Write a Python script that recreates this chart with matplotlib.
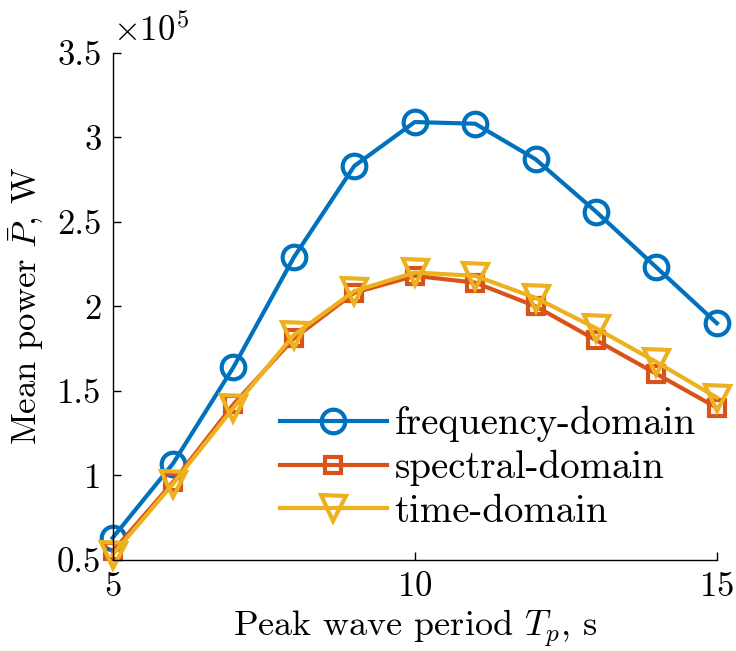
import matplotlib
matplotlib.use("Agg")
import matplotlib.pyplot as plt
from matplotlib.ticker import FuncFormatter

plt.rcParams["font.family"] = "serif"
plt.rcParams["font.serif"] = ["cmr10"]
plt.rcParams["mathtext.fontset"] = "cm"
plt.rcParams["axes.unicode_minus"] = False
plt.rcParams["axes.formatter.use_mathtext"] = True

# peak wave period, s
Tp = [5, 6, 7, 8, 9, 10, 11, 12, 13, 14, 15]
# mean power, x1e5 W
freq_dom = [0.63, 1.07, 1.64, 2.29, 2.83, 3.09, 3.08, 2.87, 2.56, 2.23, 1.90]
spec_dom = [0.55, 0.96, 1.42, 1.81, 2.08, 2.18, 2.14, 2.00, 1.80, 1.60, 1.40]
time_dom = [0.53, 0.95, 1.40, 1.83, 2.09, 2.20, 2.18, 2.05, 1.87, 1.67, 1.46]

blue = "#0072BD"
red = "#D95319"
yellow = "#EDB120"
fs = 25

fig = plt.figure(figsize=(7.36, 6.51), dpi=100)
ax = fig.add_axes([0.153, 0.140, 0.821, 0.779])

ax.plot(Tp, freq_dom, color=blue, lw=3, marker="o", ms=17, mfc="none", mew=3,
        label="frequency-domain", clip_on=False)
ax.plot(Tp, spec_dom, color=red, lw=3, marker="s", ms=11, mfc="none", mew=3,
        label="spectral-domain", clip_on=False)
ax.plot(Tp, time_dom, color=yellow, lw=3, marker="v", ms=18, mfc="none", mew=3,
        label="time-domain", clip_on=False)

ax.set_xlim(5, 15)
ax.set_ylim(0.5, 3.5)
ax.set_xticks([5, 10, 15])
ax.set_yticks([0.5, 1, 1.5, 2, 2.5, 3, 3.5])
ax.yaxis.set_major_formatter(FuncFormatter(lambda v, p: ("%g" % v)))

for s in ["top", "right"]:
    ax.spines[s].set_visible(False)
for s in ["left", "bottom"]:
    ax.spines[s].set_linewidth(1.0)
ax.tick_params(direction="in", length=6, width=1.0, labelsize=fs, pad=8)

ax.set_xlabel("Peak wave period $T_p$, s", fontsize=26, labelpad=4)
ax.set_ylabel(r"Mean power $\bar{P}$, W", fontsize=fs, labelpad=8)
ax.text(0.0, 1.01, r"$\times10^5$", transform=ax.transAxes, fontsize=fs,
        ha="left", va="bottom")

ax.legend(loc="lower right", bbox_to_anchor=(1.01, 0.005), frameon=False, fontsize=28,
          handlelength=2.75, handletextpad=0.2, labelspacing=0.2, borderpad=0.2)

fig.savefig("out.png", dpi=100)
